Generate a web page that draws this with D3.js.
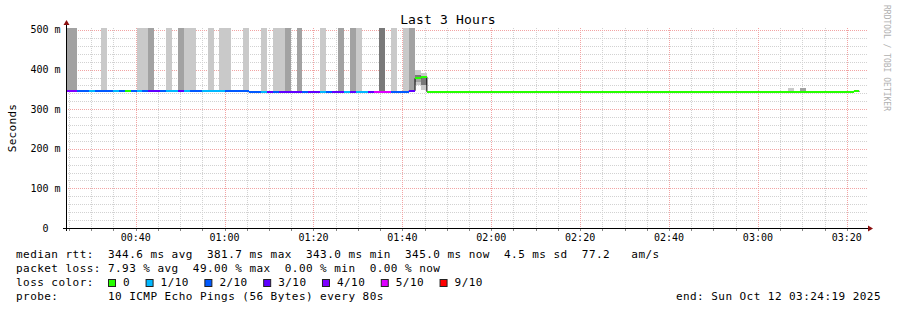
<!DOCTYPE html>
<html>
<head>
<meta charset="utf-8">
<script src="https://cdnjs.cloudflare.com/ajax/libs/d3/7.8.5/d3.min.js"></script>
<style>
body { margin: 0; background: #fff; }
svg text { font-family: "DejaVu Sans Mono", monospace; white-space: pre; }
</style>
</head>
<body>
<svg></svg>
<script>
// time window of the graph and the probe step
var graphEnd = new Date(2025, 9, 12, 3, 24, 19);
var graphStart = new Date(2025, 9, 12, 0, 24, 19);
var stepStart = new Date(2025, 9, 12, 0, 24, 11);
var stepSeconds = 80;

// median rtt per step (ms)
var medianRtt = [
    345.5, 345.5, 345, 345, 345.5, 345, 345, 345, 345.5, 345,
    345, 345, 345.5, 345, 345.5, 345.5, 345, 345, 345, 345.5,
    345, 345, 345, 345, 345, 345, 345, 345, 345, 345,
    345, 342.5, 342.5, 343, 342.5, 342.5, 342.5, 343, 342.5, 343,
    343.5, 344, 344, 344, 344.5, 344, 344, 344.5, 344, 344,
    344, 344, 343.5, 343.5, 344, 344, 344, 344, 346.5, 378,
    381.7, 344, 344, 344, 344, 344, 344, 344.5, 344.5, 344.5,
    344.5, 344.5, 344.5, 344.5, 344.5, 344.5, 344.5, 344.5, 344.5, 344.5,
    344.5, 344.5, 344.5, 344.5, 344.5, 344.5, 344.5, 344.5, 344.5, 344.5,
    344.5, 344.5, 344.5, 344.5, 344.5, 344.5, 344.5, 344.5, 344.5, 344.5,
    344.5, 344.5, 344.5, 344.5, 344.5, 344.5, 344.5, 344.5, 344.5, 344.5,
    344.5, 344.5, 344.5, 344.5, 344.5, 344.5, 344.5, 344.5, 344.5, 344.5,
    344.5, 344.5, 344.5, 344.5, 344.5, 344.5, 344.5, 344.5, 344.5, 344.5,
    344.5, 344.5, 344.5, 345
];

// lost pings (out of 10) per step
var lossCount = [
    4, 4, 2, 2, 1, 2, 2, 2, 1, 2,
    0, 2, 1, 2, 3, 3, 2, 1, 1, 3,
    1, 2, 2, 1, 1, 1, 1, 2, 2, 2,
    2, 2, 2, 1, 3, 2, 3, 3, 3, 3,
    2, 3, 3, 1, 2, 3, 3, 1, 3, 1,
    1, 3, 5, 5, 5, 2, 2, 2, 3, 0,
    0, 0, 0, 0, 0, 0, 0, 0, 0, 0,
    0, 0, 0, 0, 0, 0, 0, 0, 0, 0,
    0, 0, 0, 0, 0, 0, 0, 0, 0, 0,
    0, 0, 0, 0, 0, 0, 0, 0, 0, 0,
    0, 0, 0, 0, 0, 0, 0, 0, 0, 0,
    0, 0, 0, 0, 0, 0, 0, 0, 0, 0,
    0, 0, 0, 0, 0, 0, 0, 0, 0, 0,
    0, 0, 0, 0
];

// smoke: [step, low ms, high ms, pings in band]
var smokeBands = [
    [0, 346, 600, 2], [1, 346, 600, 2],
    [6, 346, 600, 1],
    [12, 346, 600, 1], [13, 346, 600, 1], [14, 346, 600, 2],
    [17, 346, 600, 1],
    [19, 346, 600, 2], [20, 346, 600, 1], [21, 346, 600, 1],
    [24, 346, 600, 1],
    [26, 346, 600, 1], [27, 346, 600, 1],
    [30, 346, 600, 1],
    [33, 345, 600, 1],
    [35, 345, 600, 1], [36, 345, 600, 1], [37, 345, 600, 2],
    [39, 345, 600, 2],
    [43, 345, 600, 1],
    [46, 345, 600, 2],
    [48, 345, 600, 2], [49, 345, 600, 1],
    [53, 345, 600, 3],
    [55, 345, 600, 1],
    [57, 345, 600, 1], [58, 347, 600, 2],
    [59, 386, 399, 1], [59, 379, 386, 3], [59, 369, 378, 2], [59, 361, 369, 1],
    [60, 384, 392, 1], [60, 360, 381, 3], [60, 348, 360, 1],
    [122, 346, 353, 1], [124, 346, 354, 2]
];

var lossLevels = [0, 1, 2, 3, 4, 5, 9];
var lossColors = ["#26ff00", "#00b8ff", "#0059ff", "#5e00ff", "#7e00ff", "#dd00ff", "#ff0000"];
var lossLabels = ["0", "1/10", "2/10", "3/10", "4/10", "5/10", "9/10"];
var smokeLevels = [1, 2, 3];
var smokeGrays = ["#c9c9c9", "#a2a2a2", "#797979"];

var yTicks = [0, 100, 200, 300, 400, 500];
var yTickLabels = ["0  ", "100 m", "200 m", "300 m", "400 m", "500 m"];

var statLines = [
    "median rtt:  344.6 ms avg  381.7 ms max  343.0 ms min  345.0 ms now  4.5 ms sd  77.2   am/s",
    "packet loss: 7.93 % avg  49.00 % max  0.00 % min  0.00 % now"
];
var probeLine = "probe:       10 ICMP Echo Pings (56 Bytes) every 80s";
var endLine = "end: Sun Oct 12 03:24:19 2025";

var screen = {width: 897, height: 310};
var plot = {left: 66, right: 866, top: 28, bottom: 228};

var svg = d3.select("svg")
    .attr("width", screen.width)
    .attr("height", screen.height);

var xScale = d3.scaleTime()
    .domain([graphStart, graphEnd])
    .range([plot.left, plot.right]);

var yScale = d3.scaleLinear()
    .domain([0, 505])
    .range([plot.bottom, plot.top]);

var lossScale = d3.scaleOrdinal(lossLevels, lossColors);
var smokeScale = d3.scaleOrdinal(smokeLevels, smokeGrays);

var px = function(v) { return Math.round(v) + 0.5; };

var steps = medianRtt.map(function(v, i) {
    return {
        t0: d3.timeSecond.offset(stepStart, i * stepSeconds),
        t1: d3.timeSecond.offset(stepStart, (i + 1) * stepSeconds),
        v: v,
        loss: lossCount[i]
    };
});

// ---- grid
var grid = svg.append("g").attr("id", "grid")
    .attr("fill", "none")
    .attr("stroke-width", 1)
    .attr("stroke-dasharray", "1,1");

var minorX = d3.timeMinute.every(5).range(graphStart, graphEnd)
    .filter(function(d) { return d.getMinutes() % 20 != 0; });
var majorX = d3.timeMinute.every(20).range(graphStart, graphEnd);
var minorY = d3.range(20, 505, 20).filter(function(v) { return v % 100 != 0; });
var majorY = yTicks.filter(function(v) { return v > 0; });

grid.selectAll(".minx").data(minorX).enter().append("line")
    .attr("x1", function(d) { return px(xScale(d)); })
    .attr("x2", function(d) { return px(xScale(d)); })
    .attr("y1", plot.top).attr("y2", plot.bottom)
    .attr("stroke", "#d2d2d2");

grid.selectAll(".miny").data(minorY).enter().append("line")
    .attr("x1", plot.left).attr("x2", plot.right + 2)
    .attr("y1", function(d) { return px(yScale(d)); })
    .attr("y2", function(d) { return px(yScale(d)); })
    .attr("stroke", "#d2d2d2");

grid.selectAll(".majx").data(majorX).enter().append("line")
    .attr("x1", function(d) { return px(xScale(d)); })
    .attr("x2", function(d) { return px(xScale(d)); })
    .attr("y1", plot.top).attr("y2", plot.bottom)
    .attr("stroke", "#f2a4a4");

grid.selectAll(".majy").data(majorY).enter().append("line")
    .attr("x1", plot.left).attr("x2", plot.right + 2)
    .attr("y1", function(d) { return px(yScale(d)); })
    .attr("y2", function(d) { return px(yScale(d)); })
    .attr("stroke", "#f2a4a4");

// ---- smoke
svg.append("clipPath").attr("id", "plotclip")
    .append("rect")
    .attr("x", plot.left + 1).attr("y", plot.top)
    .attr("width", plot.right - plot.left).attr("height", plot.bottom - plot.top);

svg.append("g")
    .attr("clip-path", "url(#plotclip)")
    .attr("shape-rendering", "crispEdges")
    .selectAll("rect")
    .data(smokeBands)
    .enter().append("rect")
    .attr("x", function(d) { return xScale(steps[d[0]].t0); })
    .attr("width", function(d) { return xScale(steps[d[0]].t1) - xScale(steps[d[0]].t0); })
    .attr("y", function(d) { return yScale(d[2]); })
    .attr("height", function(d) { return yScale(d[1]) - yScale(d[2]); })
    .attr("fill", function(d) { return smokeScale(d[3]); });

// ---- median: thin black line underneath, loss coloured steps on top
var medianPts = [];
steps.forEach(function(s) {
    medianPts.push([s.t0, s.v]);
    medianPts.push([s.t1, s.v]);
});

svg.append("path")
    .datum(medianPts)
    .attr("fill", "none")
    .attr("stroke", "#000")
    .attr("stroke-width", 1)
    .attr("d", d3.line()
        .x(function(d) { return Math.max(plot.left + 1, xScale(d[0])); })
        .y(function(d) { return yScale(d[1]); }));

svg.append("g")
    .attr("shape-rendering", "crispEdges")
    .selectAll("line")
    .data(steps)
    .enter().append("line")
    .attr("x1", function(d) { return Math.max(plot.left + 1, xScale(d.t0)); })
    .attr("x2", function(d) { return xScale(d.t1); })
    .attr("y1", function(d) { return yScale(d.v); })
    .attr("y2", function(d) { return yScale(d.v); })
    .attr("stroke", function(d) { return lossScale(d.loss); })
    .attr("stroke-width", 2);

// ---- axes
var axes = svg.append("g").attr("id", "axes");

axes.append("line")
    .attr("x1", plot.left - 3).attr("x2", plot.right + 2)
    .attr("y1", plot.bottom + 0.5).attr("y2", plot.bottom + 0.5)
    .attr("stroke", "#000");

axes.append("line")
    .attr("x1", plot.left + 0.5).attr("x2", plot.left + 0.5)
    .attr("y1", plot.bottom + 3).attr("y2", plot.top - 3)
    .attr("stroke", "#000");

axes.selectAll(".xtick").data(minorX.concat(majorX)).enter().append("line")
    .attr("x1", function(d) { return px(xScale(d)); })
    .attr("x2", function(d) { return px(xScale(d)); })
    .attr("y1", plot.bottom + 1).attr("y2", plot.bottom + 3)
    .attr("stroke", "#888");

axes.append("path")
    .attr("d", "M" + (plot.right + 2) + "," + (plot.bottom - 2.5) + "L" + (plot.right + 7) + "," + (plot.bottom + 0.5) +
        "L" + (plot.right + 2) + "," + (plot.bottom + 3.5) + "Z")
    .attr("fill", "#8b1010");

axes.append("path")
    .attr("d", "M" + (plot.left - 2.5) + "," + (plot.top - 3) + "L" + (plot.left + 0.5) + "," + (plot.top - 8) +
        "L" + (plot.left + 3.5) + "," + (plot.top - 3) + "Z")
    .attr("fill", "#8b1010");

axes.selectAll(".ylab").data(yTicks).enter().append("text")
    .attr("x", 60.5)
    .attr("y", function(d) { return yScale(d) + 3.5; })
    .attr("text-anchor", "end")
    .attr("font-size", 10)
    .attr("fill", "#000")
    .text(function(d, i) { return yTickLabels[i]; });

axes.selectAll(".xlab").data(majorX).enter().append("text")
    .attr("x", function(d) { return xScale(d); })
    .attr("y", 241)
    .attr("text-anchor", "middle")
    .attr("font-size", 10)
    .attr("fill", "#000")
    .text(d3.timeFormat("%H:%M"));

svg.append("text")
    .attr("transform", "translate(15.5," + ((plot.top + plot.bottom) / 2) + ") rotate(-90)")
    .attr("text-anchor", "middle")
    .attr("font-size", 11)
    .attr("letter-spacing", "0.3px")
    .text("Seconds");

svg.append("text")
    .attr("x", 448)
    .attr("y", 24)
    .attr("text-anchor", "middle")
    .attr("font-size", 13)
    .attr("letter-spacing", "0.15px")
    .text("Last 3 Hours");

svg.append("text")
    .attr("transform", "translate(884,5) rotate(90)")
    .attr("font-size", 8)
    .attr("fill", "#b0b0b0")
    .text("RRDTOOL / TOBI OETIKER");

// ---- legend
var legend = svg.append("g")
    .attr("font-size", 11)
    .attr("letter-spacing", "0.45px")
    .attr("fill", "#000");

legend.selectAll(".stat").data(statLines).enter().append("text")
    .attr("x", 16)
    .attr("y", function(d, i) { return 258 + i * 14; })
    .text(function(d) { return d; });

legend.append("text").attr("x", 16).attr("y", 286).text("loss color:");

var cursor = 108;
lossLevels.forEach(function(lv, i) {
    legend.append("rect")
        .attr("x", cursor + 0.5).attr("y", 279.5)
        .attr("width", 7).attr("height", 7)
        .attr("fill", lossScale(lv))
        .attr("stroke", "#222")
        .attr("stroke-width", 1);
    var t = legend.append("text")
        .attr("x", cursor + 15).attr("y", 286)
        .text(lossLabels[i]);
    cursor = cursor + 15 + t.node().getComputedTextLength() + 15.5;
});

legend.append("text").attr("x", 16).attr("y", 300).text(probeLine);
legend.append("text").attr("x", 881).attr("y", 300)
    .attr("text-anchor", "end")
    .text(endLine);
</script>
</body>
</html>
